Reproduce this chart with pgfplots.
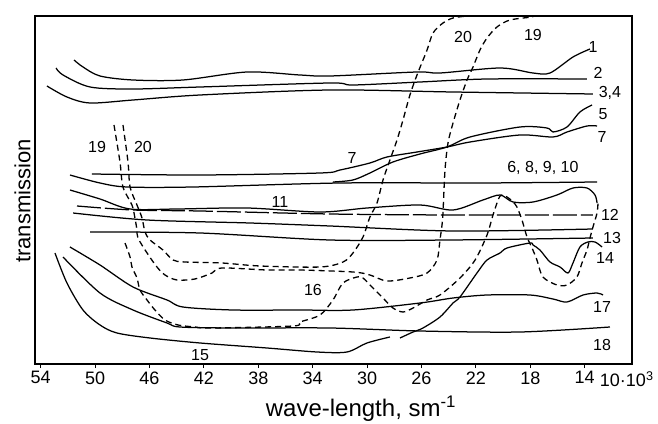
\documentclass[border=0pt]{standalone}
\usepackage{fontspec}
\setmainfont{Liberation Sans}
\usepackage{pgfplots}
\pgfplotsset{compat=1.18}
\tikzset{
  dsh/.style={dash pattern=on 6pt off 4pt, line width=1.3pt},
  lbl/.style={font=\fontsize{16}{16}\selectfont, inner sep=1pt},
}

\begin{document}
\begin{tikzpicture}
\begin{axis}[
  width=597pt, height=348pt, scale only axis,
  x dir=reverse, xmin=10.52, xmax=54.42, ymin=0, ymax=348,
  xtick={54,50,...,14}, ytick=\empty,
  xtick pos=bottom, tick align=outside, major tick length=4pt,
  axis line style={line width=1.4pt},
  tick style={line width=1pt, black},
  /pgf/number format/assume math mode=true,
  xticklabel style={font=\fontsize{18}{18}\selectfont},
  clip mode=individual,
  cycle list={{black,solid,mark=none}},
  every axis plot/.append style={line width=1.25pt, black, smooth, tension=0.5, mark=none},
]
% 1
\addplot coordinates {(51.55,304)(50.89,297)(49.64,288)(47.21,284)(43.54,284)(38.83,292)(34.93,289)(32.73,288)(26.33,292)(24.64,291)(20.22,296)(17.80,291)(16.55,291)(14.86,307)(13.61,315)};
% 2
\addplot coordinates {(52.87,296)(52.36,289)(50.37,277)(47.21,275)(42.28,277)(32.73,281)(31.04,279)(26.11,282)(21.18,285)(13.83,285)};
% 3,4
\addplot coordinates {(53.54,278)(52.07,267)(50.37,261)(47.21,264)(42.28,269)(32.73,274)(23.68,272)(13.39,270)};
% 5
\addplot coordinates {(32.51,182)(31.04,184)(29.79,191)(28.10,202)(26.11,210)(24.12,217)(22.43,227)(18.76,237)(16.77,236)(16.33,232)(15.30,237)(14.35,252)(13.46,259)};
% 7
\addplot coordinates {(50.23,190)(42.28,189)(33.46,191)(31.99,194)(29.79,201)(28.54,207)(26.33,212)(24.12,217)(22.43,222)(18.76,229)(16.33,227)(15.30,232)(13.83,238)(13.09,238)};
% 6, 8, 9, 10
\addplot coordinates {(51.85,189)(49.64,181)(47.65,177)(42.80,177)(31.99,181)(21.70,181)(13.09,182)};
% 11
\addplot coordinates {(51.85,174)(49.64,165)(47.43,155)(43.98,155)(38.83,156)(33.46,152)(30.01,156)(26.11,159)(23.68,154)(21.48,164)(20.22,169)(19.27,162)(17.80,162)(16.04,169)(14.86,176)(13.83,176)(13.24,169)(13.09,161)};
% 12
\addplot[dash pattern=on 24pt off 4pt] coordinates {(51.33,158)(47.21,154)(42.28,153)(32.73,150)(23.68,149)(13.39,149)};
% 13
\addplot coordinates {(51.62,151)(46.18,144)(38.61,141)(32.73,138)(23.68,133)(13.39,135)};
\addplot coordinates {(50.37,132)(42.28,131)(32.73,124)(23.90,124)(13.39,126)};
% 14
\addplot coordinates {(27.58,26)(26.62,32)(25.89,36)(24.64,47)(23.68,61)(23.17,67)(21.92,91)(21.18,104)(20.22,111)(19.71,116)(18.02,121)(17.80,119)(17.29,114)(16.55,102)(15.81,97)(15.23,91)(14.86,101)(14.35,117)(13.76,122)(13.24,122)(12.72,117)};
% 15
\addplot coordinates {(52.95,111)(52.07,81)(50.89,54)(49.64,39)(48.39,31)(45.96,26)(42.28,21)(37.36,16)(33.68,12)(31.48,12)(30.01,21)(28.32,27)};
% 17
\addplot coordinates {(51.85,117)(49.64,99)(47.21,77)(44.71,64)(43.54,57)(39.86,54)(34.93,54)(31.04,54)(26.11,61)(23.68,66)(21.18,69)(18.02,69)(16.33,65)(15.30,62)(14.12,69)(13.09,71)(12.65,69)};
% 18
\addplot coordinates {(52.36,107)(49.64,71)(47.21,54)(44.71,41)(43.76,37)(39.86,36)(32.73,36)(26.11,33)(18.76,32)(12.14,37)};
% 16
\addplot[dsh] coordinates {(47.80,121)(47.43,107)(47.29,97)(46.92,86)(46.70,74)(46.18,64)(45.60,54)(44.86,44)(43.90,39)(42.66,37)(41.40,36)(35.45,38)(34.93,42)(33.46,49)(32.51,64)(31.77,81)(30.74,87)(30.30,86)(29.57,76)(28.83,66)(28.10,56)(27.36,52)(26.62,56)(25.59,64)(24.64,69)(23.17,86)(22.06,104)(21.18,129)(20.74,149)(20.22,168)(19.71,167)(19.27,162)(18.98,157)(18.61,144)(18.24,127)(17.87,116)(17.51,104)(17.07,87)(16.04,79)(15.30,79)(14.57,87)(14.20,101)(13.83,114)(13.61,126)(13.39,137)(13.09,151)(13.02,161)};
% 19
\addplot[dsh] coordinates {(48.61,239)(48.17,202)(47.95,177)(47.29,159)(47.07,146)(46.92,134)(46.85,126)(46.18,111)(45.45,97)(44.86,89)(43.98,84)(42.66,85)(41.40,91)(40.67,96)(37.36,94)(34.93,94)(31.04,92)(29.79,89)(28.54,83)(26.85,86)(25.59,91)(24.86,104)(24.64,124)(24.49,139)(24.42,151)(24.27,194)(24.05,221)(23.68,241)(23.17,264)(22.65,284)(22.21,297)(21.70,314)(21.18,326)(20.45,337)(19.49,344)(17.80,347)};
% 20
\addplot[dsh] coordinates {(47.95,239)(47.58,202)(47.43,177)(46.92,159)(46.55,146)(46.33,132)(45.96,124)(45.01,114)(44.27,104)(43.39,102)(40.67,101)(37.87,98)(33.46,97)(31.77,102)(31.04,111)(30.30,127)(29.79,147)(29.27,161)(28.83,184)(28.32,204)(27.80,224)(27.36,244)(26.85,269)(26.33,289)(25.59,314)(25.15,331)(24.42,341)(23.68,346)(22.65,348)};

\node[lbl] at (axis cs:13.39,317) {1};
\node[lbl] at (axis cs:13.02,291) {2};
\node[lbl] at (axis cs:12.14,271) {3,4};
\node[lbl] at (axis cs:12.65,250) {5};
\node[lbl] at (axis cs:12.72,227) {7};
\node[lbl] at (axis cs:31.11,206) {7};
\node[lbl] at (axis cs:17.07,196) {6, 8, 9, 10};
\node[lbl] at (axis cs:22.94,327) {20};
\node[lbl] at (axis cs:17.80,329) {19};
\node[lbl] at (axis cs:49.86,217) {19};
\node[lbl] at (axis cs:46.48,217) {20};
\node[lbl] at (axis cs:36.40,162) {11};
\node[lbl] at (axis cs:12.14,149) {12};
\node[lbl] at (axis cs:11.99,126) {13};
\node[lbl] at (axis cs:12.50,106) {14};
\node[lbl] at (axis cs:12.72,57) {17};
\node[lbl] at (axis cs:12.72,19) {18};
\node[lbl] at (axis cs:42.28,9) {15};
\node[lbl] at (axis cs:33.98,74) {16};

\node[anchor=base west, inner sep=0pt, font=\fontsize{18}{18}\selectfont]
  at (axis description cs:0.946,-0.066) {10·10\textsuperscript{3}};
\node[anchor=base, inner sep=0pt, font=\fontsize{24}{24}\selectfont]
  at (axis description cs:0.546,-0.152) {wave-length, sm\textsuperscript{-1}};
\node[rotate=90, anchor=south, inner sep=0pt, font=\fontsize{22}{22}\selectfont]
  at (axis description cs:-0.007,0.468) {transmission};
\end{axis}
\pgfresetboundingbox
\path[use as bounding box] ([xshift=-35pt,yshift=-59pt]current axis.south west)
  rectangle ([xshift=26pt,yshift=16pt]current axis.north east);
\end{tikzpicture}
\end{document}
